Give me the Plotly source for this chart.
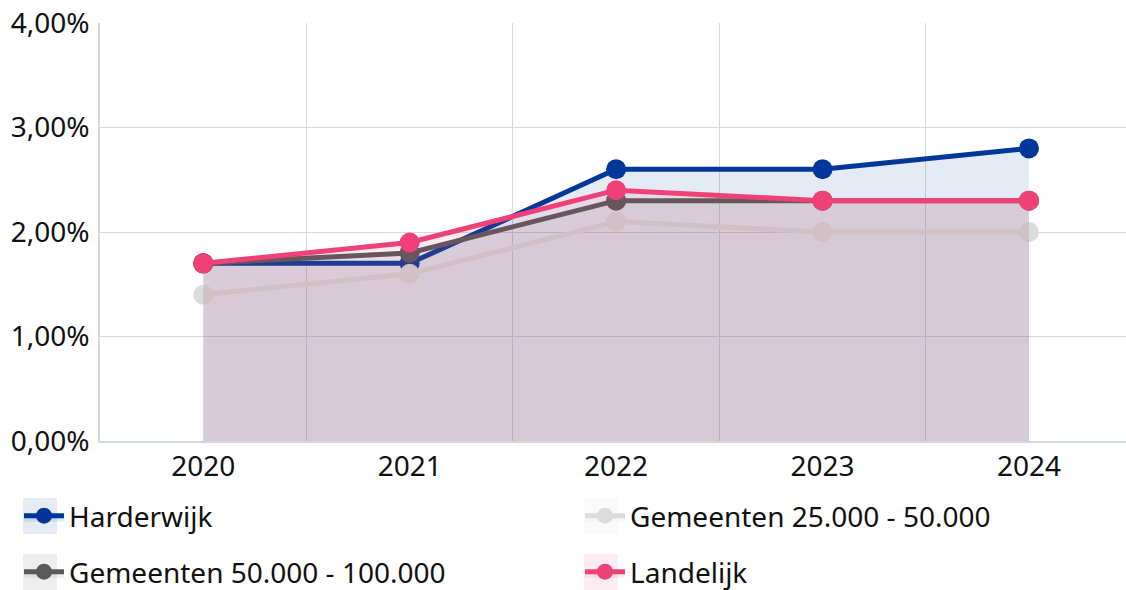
import plotly.graph_objects as go

years = ['2020', '2021', '2022', '2023', '2024']
harderwijk = [1.7, 1.7, 2.6, 2.6, 2.8]
gem_25_50 = [1.4, 1.6, 2.1, 2.0, 2.0]
gem_50_100 = [1.7, 1.8, 2.3, 2.3, 2.3]
landelijk = [1.7, 1.9, 2.4, 2.3, 2.3]

series = [
    ('Harderwijk', harderwijk, '#00379b', 'rgba(0,55,155,0.1)', 'legend'),
    ('Gemeenten 25.000 - 50.000', gem_25_50, '#dcdcdc', 'rgba(220,220,220,0.1)', 'legend'),
    ('Gemeenten 50.000 - 100.000', gem_50_100, '#595959', 'rgba(89,89,89,0.1)', 'legend2'),
    ('Landelijk', landelijk, '#ef4078', 'rgba(239,64,120,0.1)', 'legend2'),
]

W, H = 1126, 590
L, R, T, B = 100, 0, 23, 149
grid = '#d3d9e2'
font = 'Noto Sans, Open Sans, sans-serif'
fsize = 28

fig = go.Figure()
for name, vals, color, fill, leg in series:
    fig.add_trace(go.Scatter(
        x=years, y=vals, name=name, mode='lines+markers',
        line=dict(color=color, width=5),
        marker=dict(color=color, size=20),
        fill='tozeroy', fillcolor=fill, legend=leg))


# pixel position -> paper coordinates
def px_to_paper(x, y):
    return (x - L) / (W - L - R), (H - B - y) / (H - T - B)


# light square behind each legend symbol
boxes = [(23, 498, 'rgba(0,55,155,0.1)'), (584, 498, 'rgba(220,220,220,0.15)'),
         (23, 554, 'rgba(89,89,89,0.1)'), (584, 554, 'rgba(239,64,120,0.1)')]
for bx, by, col in boxes:
    x0, y0 = px_to_paper(bx, by)
    x1, y1 = px_to_paper(bx + 34, by + 36)
    fig.add_shape(type='rect', xref='paper', yref='paper', x0=x0, x1=x1, y0=y1, y1=y0,
                  fillcolor=col, line_width=0, layer='below')

lx, ly1 = px_to_paper(19, 516)
_, ly2 = px_to_paper(19, 572)
leg_common = dict(orientation='h', xanchor='left', yanchor='middle', x=lx,
                  entrywidth=506, entrywidthmode='pixels', itemwidth=40,
                  bgcolor='rgba(0,0,0,0)', font=dict(size=fsize))

fig.update_layout(
    width=W, height=H,
    margin=dict(l=L, r=R, t=T, b=B, autoexpand=False),
    paper_bgcolor='white', plot_bgcolor='white',
    separators=',.',
    font=dict(family=font, size=fsize, color='#111111'),
    xaxis=dict(type='category', range=[-0.5, 4.47], tickson='boundaries',
               showgrid=True, gridcolor=grid, gridwidth=1,
               showline=True, linecolor=grid, linewidth=1.5,
               ticks='', ticklabelstandoff=0, zeroline=False, automargin=False),
    yaxis=dict(range=[0, 4], dtick=1, tickformat='.2f', ticksuffix='%',
               showgrid=True, gridcolor=grid, gridwidth=1,
               showline=True, linecolor=grid, linewidth=1.5,
               ticks='', ticklabelstandoff=3, zeroline=False, automargin=False),
    legend=dict(leg_common, y=ly1),
    legend2=dict(leg_common, y=ly2),
    showlegend=True,
)

fig.write_html('out.html', config={'displayModeBar': False},
               post_script="document.body.style.margin='0';")
